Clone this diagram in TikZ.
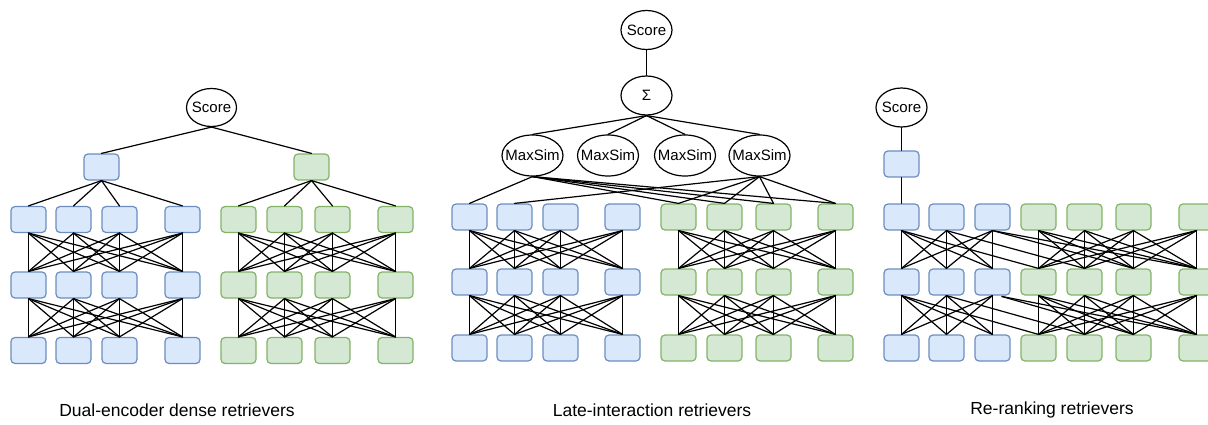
\documentclass[tikz,border=0pt]{standalone}
\usepackage{fontspec}
\setmainfont{Liberation Sans}
\usetikzlibrary{shapes.geometric}
\definecolor{qfill}{HTML}{DAE8FC}
\definecolor{qstroke}{HTML}{6C8EBF}
\definecolor{dfill}{HTML}{D5E8D4}
\definecolor{dstroke}{HTML}{82B366}
\newcommand{\zt}[1]{\makebox[0pt][c]{#1}}
\tikzset{
 tok/.style={rounded corners=4pt, minimum width=35pt, minimum height=26pt, line width=1.2pt, inner sep=0pt},
 qtok/.style={tok, draw=qstroke, fill=qfill},
 dtok/.style={tok, draw=dstroke, fill=dfill},
 oval/.style={ellipse, draw, line width=1.2pt, inner sep=0pt, minimum width=51pt, minimum height=39pt, font=\fontsize{15}{17}\selectfont},
 simoval/.style={oval, minimum width=61pt, minimum height=41pt},
 link/.style={line width=1.2pt, line cap=round},
 paneltitle/.style={font=\fontsize{17.5}{20}\selectfont, inner sep=0pt}
}
\begin{document}
\begin{tikzpicture}[x=1pt,y=-1pt]
\useasboundingbox (0,0) rectangle (1208,425);

% ---------------- Panel 1: dual encoder ----------------
\node[oval, minimum width=50pt, minimum height=38pt] (s1) at (211.5,107.5) {\zt{Score}};
\node[qtok] (aq) at (101.5,167) {};
\node[dtok] (ad) at (311.5,167) {};
\foreach \l/\y in {1/219.5,2/285,3/350.5}{
  \foreach \i/\x in {1/28.5,2/73.5,3/119.5,4/182.5}{\node[qtok] (aq\l\i) at (\x,\y) {};}
  \foreach \i/\x in {1/238.5,2/284.5,3/332.5,4/395.5}{\node[dtok] (ad\l\i) at (\x,\y) {};}
}
\draw[link] (s1.south) -- (aq.north);
\draw[link] (s1.south) -- (ad.north);
\foreach \i in {1,...,4}{
  \draw[link] (aq.south) -- (aq1\i.north);
  \draw[link] (ad.south) -- (ad1\i.north);
}
\foreach \l/\m in {1/2,2/3}{
  \foreach \i in {1,...,4}{
    \foreach \j in {1,...,4}{
      \draw[link] (aq\l\i.south) -- (aq\m\j.north);
      \draw[link] (ad\l\i.south) -- (ad\m\j.north);
    }
  }
}

% ---------------- Panel 2: late interaction ----------------
\node[oval] (s2) at (646.5,30) {\zt{Score}};
\node[oval] (sum) at (646.5,95.5) {\zt{Σ}};
\foreach \k/\x in {1/532.5,2/608,3/685,4/759.5}{\node[simoval] (ms\k) at (\x,155.5) {\zt{MaxSim}};}
\foreach \l/\y in {1/217,2/282,3/348}{
  \foreach \i/\x in {1/469.5,2/514.5,3/560.5,4/622.5}{\node[qtok] (bq\l\i) at (\x,\y) {};}
  \foreach \i/\x in {1/678.5,2/724.5,3/773.5,4/835.5}{\node[dtok] (bd\l\i) at (\x,\y) {};}
}
\draw[link] (s2.south) -- (sum.north);
\foreach \k in {1,...,4}{\draw[link] (sum.south) -- (ms\k.north);}
\draw[link] (ms1.south) -- (bq11.north);
\draw[link] (ms4.south) -- (bq12.north);
\foreach \j in {1,...,4}{
  \draw[link] (ms1.south) -- (bd1\j.north);
  \draw[link] (ms4.south) -- (bd1\j.north);
}
\foreach \l/\m in {1/2,2/3}{
  \foreach \i in {1,...,4}{
    \foreach \j in {1,...,4}{
      \draw[link] (bq\l\i.south) -- (bq\m\j.north);
      \draw[link] (bd\l\i.south) -- (bd\m\j.north);
    }
  }
}

% ---------------- Panel 3: re-ranking ----------------
\node[oval] (s3) at (901.5,107.5) {\zt{Score}};
\node[qtok] (cq) at (901.5,164) {};
\foreach \l/\y in {1/217,2/282,3/348}{
  \foreach \i/\x in {1/901.5,2/946.5,3/992.5}{\node[qtok] (cq\l\i) at (\x,\y) {};}
  \foreach \i/\x in {1/1038.5,2/1084.5,3/1133.5,4/1196.5}{\node[dtok] (cd\l\i) at (\x,\y) {};}
}
\draw[link] (s3.south) -- (cq.north);
\draw[link] (cq.south) -- (cq11.north);
\foreach \l/\m in {1/2,2/3}{
  \foreach \i in {1,...,3}{
    \foreach \j in {1,...,3}{\draw[link] (cq\l\i.south) -- (cq\m\j.north);}
  }
  \foreach \i in {1,...,4}{
    \foreach \j in {1,...,4}{\draw[link] (cd\l\i.south) -- (cd\m\j.north);}
  }
}
\coordinate (cq23r) at (1002,296.5);
\draw[link] (cq11.south) -- (cd21.north);
\draw[link] (cq12.south) -- (cd22.north);
\draw[link] (cq13.south) -- (cd23.north);
\draw[link] (cq13.south) -- (cd24.north);
\draw[link] (cq21.south) -- (cd31.north);
\draw[link] (cq22.south) -- (cd32.north);
\draw[link] (cq23r) -- (cd33.north);
\draw[link] (cq23r) -- (cd34.north);

% ---------------- Titles ----------------
\node[paneltitle] (t1) at (177,410) {Dual-encoder dense retrievers};
\node[paneltitle] (t2) at (652,410) {Late-interaction retrievers};
\node[paneltitle] (t3) at (1052,410) {Re-ranking retrievers};
\end{tikzpicture}
\end{document}
